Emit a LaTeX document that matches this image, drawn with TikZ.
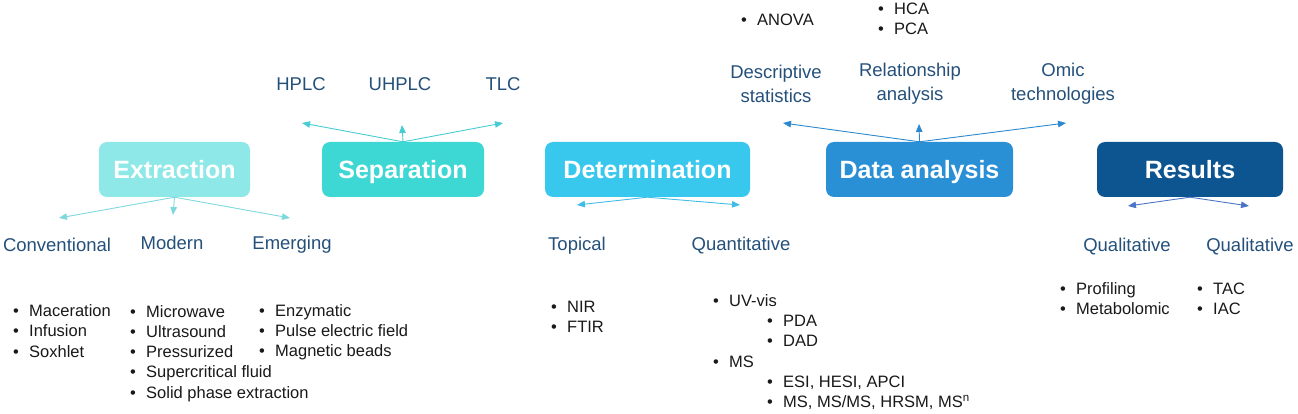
\documentclass[tikz,border=0pt]{standalone}
\usepackage{fontspec}
\setmainfont{Liberation Sans}
\usetikzlibrary{arrows.meta}

\definecolor{extrfill}{HTML}{8EE8E8}
\definecolor{sepafill}{HTML}{3ED8D4}
\definecolor{detefill}{HTML}{38C8EE}
\definecolor{datafill}{HTML}{2A90D6}
\definecolor{resufill}{HTML}{0C5590}
\definecolor{extrarrow}{HTML}{7ED8DE}
\definecolor{sepaarrow}{HTML}{48CCD4}
\definecolor{detearrow}{HTML}{42BCE6}
\definecolor{dataarrow}{HTML}{2E88CE}
\definecolor{resuarrow}{HTML}{4B74C6}
\definecolor{lblblue}{HTML}{24507A}

\tikzset{
    stage/.style={rounded corners=8pt,minimum height=55pt,inner sep=0pt,
        text height=19pt,text depth=0pt,
        text=white,font=\fontsize{25}{30}\selectfont\bfseries},
    lbl/.style={text=lblblue,align=center,inner sep=0pt,
        font=\fontsize{18.5}{24}\selectfont},
    items/.style={text=black!90,align=left,inner sep=0pt,anchor=west,
        font=\fontsize{16.5}{20.2}\selectfont},
    arr/.style={-{Triangle[length=8pt,width=6.5pt]},line width=0.9pt}
}
\newcommand{\itm}[1]{\makebox[16pt][l]{\textbullet}#1}

\begin{document}
\begin{tikzpicture}[x=1pt,y=-1pt]
    \useasboundingbox (0,0) rectangle (1298,414);

    % stages
    \node [stage,fill=extrfill,minimum width=151pt] (extraction) at (174.5,169.5) {Extraction};
    \node [stage,fill=sepafill,minimum width=162pt] (separation) at (403,169.5) {Separation};
    \node [stage,fill=detefill,minimum width=205pt] (determination) at (647.5,169.5) {Determination};
    \node [stage,fill=datafill,minimum width=187pt] (analysis) at (919.5,169.5) {Data analysis};
    \node [stage,fill=resufill,minimum width=186pt] (results) at (1190,169.5) {Results};

    % arrow ends
    \coordinate (ext-l) at (59,218);
    \coordinate (ext-d) at (173,215);
    \coordinate (ext-r) at (290,218);
    \coordinate (sep-l) at (302,123);
    \coordinate (sep-u) at (402,125);
    \coordinate (sep-r) at (503,123);
    \coordinate (det-l) at (577,205);
    \coordinate (det-r) at (740,205);
    \coordinate (dat-l) at (783,123);
    \coordinate (dat-u) at (919,124);
    \coordinate (dat-r) at (1066,123);
    \coordinate (res-l) at (1128,206);
    \coordinate (res-r) at (1249,206);

    \draw [arr,extrarrow] (extraction.south) -- (ext-l);
    \draw [arr,extrarrow] (extraction.south) -- (ext-d);
    \draw [arr,extrarrow] (extraction.south) -- (ext-r);
    \draw [arr,sepaarrow] (separation.north) -- (sep-l);
    \draw [arr,sepaarrow] (separation.north) -- (sep-u);
    \draw [arr,sepaarrow] (separation.north) -- (sep-r);
    \draw [arr,detearrow] (determination.south) -- (det-l);
    \draw [arr,detearrow] (determination.south) -- (det-r);
    \draw [arr,dataarrow] (analysis.north) -- (dat-l);
    \draw [arr,dataarrow] (analysis.north) -- (dat-u);
    \draw [arr,dataarrow] (analysis.north) -- (dat-r);
    \draw [arr,resuarrow] (results.south) -- (res-l);
    \draw [arr,resuarrow] (results.south) -- (res-r);

    % labels
    \node [lbl] (conventional) at (57,245) {Conventional};
    \node [lbl] (modern) at (172,243) {Modern};
    \node [lbl] (emerging) at (292,245) {Emerging};
    \node [lbl] (hplc) at (301,84) {HPLC};
    \node [lbl] (uhplc) at (400,84) {UHPLC};
    \node [lbl] (tlc) at (503,84) {TLC};
    \node [lbl] (topical) at (577,246) {Topical};
    \node [lbl] (quantitative) at (741,246) {Quantitative};
    \node [lbl] (descriptive) at (776,84) {Descriptive\\statistics};
    \node [lbl] (relationship) at (910,84) {Relationship\\analysis};
    \node [lbl] (omic) at (1063,84) {Omic\\technologies};
    \node [lbl] (qualitative) at (1127,247) {Qualitative};
    \node [lbl] (qualitative2) at (1250,247) {Qualitative};

    % item lists
    \node [items] (conv-list) at (13,331) {\itm{Maceration}\\\itm{Infusion}\\\itm{Soxhlet}};
    \node [items] (mod-list) at (130,353.5) {\itm{Microwave}\\\itm{Ultrasound}\\\itm{Pressurized}\\
        \itm{Supercritical fluid}\\\itm{Solid phase extraction}};
    \node [items] (emer-list) at (259,332) {\itm{Enzymatic}\\\itm{Pulse electric field}\\\itm{Magnetic beads}};
    \node [items] (top-list) at (551,317) {\itm{NIR}\\\itm{FTIR}};
    \node [items] (quan-list) at (713,352) {\itm{UV-vis}\\
        \hspace*{54pt}\itm{PDA}\\\hspace*{54pt}\itm{DAD}\\\itm{MS}\\
        \hspace*{54pt}\itm{ESI, HESI, APCI}\\
        \hspace*{54pt}\itm{MS, MS/MS, HRSM, MS\textsuperscript{n}}};
    \node [items] (anova) at (741,20) {\itm{ANOVA}};
    \node [items] (hca-list) at (878,19) {\itm{HCA}\\\itm{PCA}};
    \node [items] (qual-list) at (1060,298.5) {\itm{Profiling}\\\itm{Metabolomic}};
    \node [items] (qual2-list) at (1197,298.5) {\itm{TAC}\\\itm{IAC}};
\end{tikzpicture}
\end{document}
